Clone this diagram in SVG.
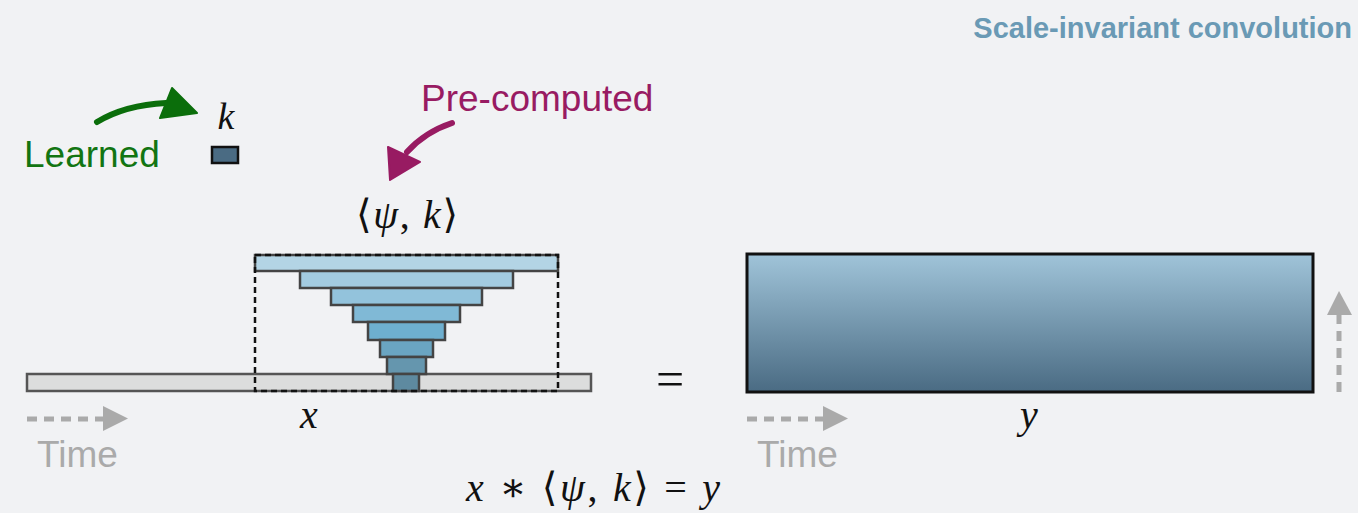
<svg xmlns="http://www.w3.org/2000/svg" width="1358" height="513" viewBox="0 0 1358 513">
<defs>
<linearGradient id="yg" x1="0" y1="0" x2="0" y2="1">
<stop offset="0" stop-color="#a0c4d9"/>
<stop offset="1" stop-color="#4a6b83"/>
</linearGradient>
<style>
.math{font-family:"Liberation Serif","DejaVu Serif",serif;font-style:italic;fill:#111}
.mathr{font-family:"Liberation Serif","DejaVu Serif",serif;fill:#111}
.lay{stroke:#444;stroke-width:2.5}
.time{font-family:"Liberation Sans",Arial,sans-serif;font-size:37px;fill:#aaaaaa}
.tarrow{stroke:#aaaaaa;stroke-width:5;stroke-dasharray:10,7;fill:none}
</style>
</defs>
<rect width="1358" height="513" fill="#f1f2f4"/>
<text x="1352" y="38" text-anchor="end" font-family="Liberation Sans,Arial,sans-serif" font-weight="bold" font-size="29" fill="#6a9ab5">Scale-invariant convolution</text>

<g id="learned">
<text x="24" y="167" font-family="Liberation Sans,Arial,sans-serif" font-size="37" fill="#127512">Learned</text>
</g>
<g id="k">
<text x="226" y="129" class="math" font-size="38" text-anchor="middle">k</text>
<rect x="212" y="147" width="26" height="16" fill="#4a6b83" stroke="#111" stroke-width="2.5"/>
</g>
<g id="precomputed">
<text x="421" y="111" font-family="Liberation Sans,Arial,sans-serif" font-size="37" fill="#981b62">Pre-computed</text>
</g>
<g id="psik">
<text x="356" y="228" class="mathr" font-size="40" textLength="102" lengthAdjust="spacing">⟨<tspan font-style="italic">ψ</tspan>, <tspan font-style="italic">k</tspan>⟩</text>
</g>

<g id="x">
<rect x="27" y="374" width="564" height="17" fill="#dcdddd" stroke="#555" stroke-width="2.5"/>
<text x="309" y="428" class="math" font-size="40" text-anchor="middle">x</text>
</g>
<g id="kernel">
<rect class="lay" x="255" y="255" width="303" height="16" fill="#b3d4e5"/>
<rect class="lay" x="300" y="271" width="213" height="17" fill="#a3cbe0"/>
<rect class="lay" x="331" y="288" width="151" height="17" fill="#93c3dc"/>
<rect class="lay" x="353" y="305" width="107" height="17" fill="#80b9d6"/>
<rect class="lay" x="368" y="322" width="77" height="18" fill="#6eafcf"/>
<rect class="lay" x="380" y="340" width="53" height="17" fill="#6aa5c2"/>
<rect class="lay" x="387" y="357" width="39" height="17" fill="#6596ae"/>
<rect class="lay" x="393" y="374" width="26" height="17" fill="#5e8aa0"/>
<rect x="255" y="255" width="303" height="136" fill="none" stroke="#111" stroke-width="2.5" stroke-dasharray="6,4"/>
</g>
<g id="eq">
<text x="670" y="396" class="mathr" font-size="50" text-anchor="middle">=</text>
</g>
<g id="y">
<rect x="747" y="254" width="566" height="138" fill="url(#yg)" stroke="#111" stroke-width="3"/>
<text x="1029" y="428" class="math" font-size="40" text-anchor="middle">y</text>
</g>
<g id="formula">
<text x="466" y="501" class="mathr" font-size="40" textLength="254" lengthAdjust="spacing"><tspan font-style="italic">x</tspan> ∗ ⟨<tspan font-style="italic">ψ</tspan>, <tspan font-style="italic">k</tspan>⟩ = <tspan font-style="italic">y</tspan></text>
</g>
<g id="time1">
<text x="37" y="467" class="time">Time</text>
</g>
<g id="time2">
<text x="757" y="467" class="time">Time</text>
</g>

<g id="connectors">
<path d="M27 419 H104" class="tarrow"/>
<polygon points="103,406 128,418.5 103,431" fill="#aaaaaa"/>
<path d="M747 419 H824" class="tarrow"/>
<polygon points="823,406 848,418.5 823,431" fill="#aaaaaa"/>
<path d="M1339 392 V315" class="tarrow"/>
<polygon points="1327,315 1339,291 1352,315" fill="#aaaaaa"/>
<path d="M97 122 Q125 105 166 103" stroke="#0b6e0b" stroke-width="6" fill="none" stroke-linecap="round"/>
<polygon points="172,88 197,113 160,118" fill="#0b6e0b" stroke="#0b6e0b" stroke-width="2" stroke-linejoin="round"/>
<path d="M452 123 Q425 132 407 152" stroke="#981b62" stroke-width="6" fill="none" stroke-linecap="round"/>
<polygon points="388,147 420,162 390,180" fill="#981b62" stroke="#981b62" stroke-width="2" stroke-linejoin="round"/>
</g>
</svg>
